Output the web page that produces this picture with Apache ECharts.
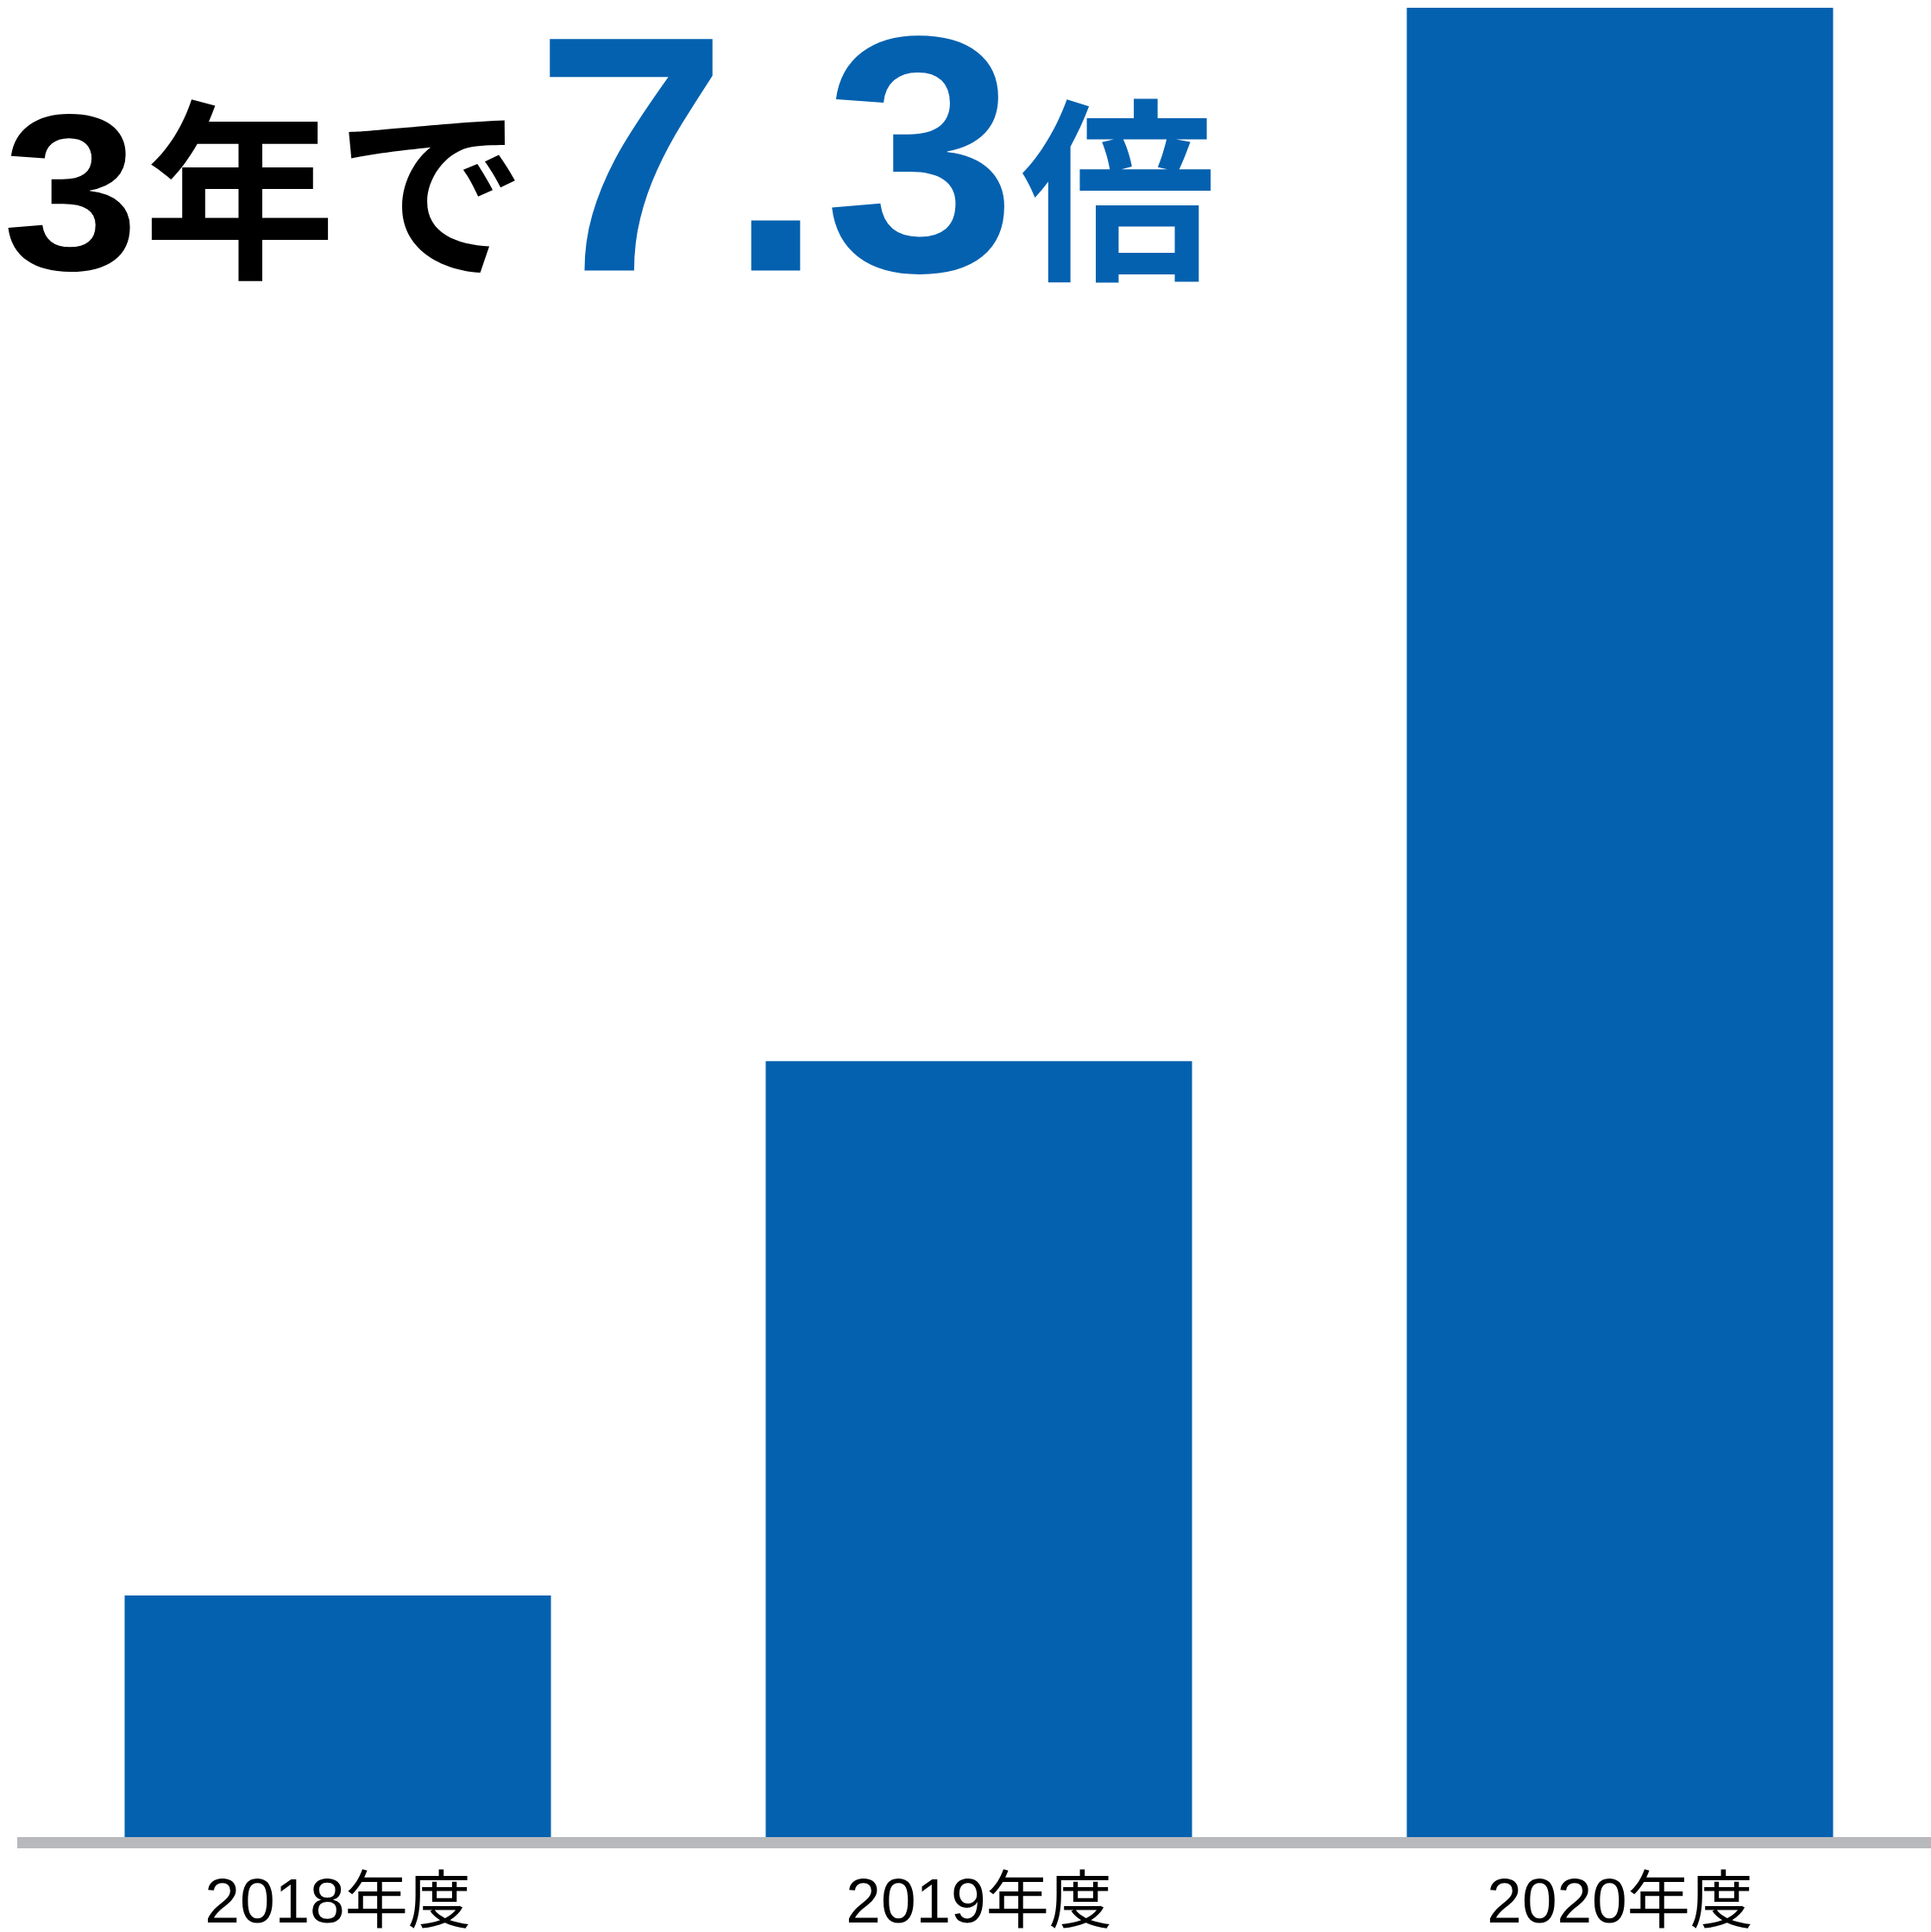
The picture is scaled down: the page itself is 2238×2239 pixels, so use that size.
<!DOCTYPE html>
<html><head><meta charset="utf-8">
<script src="https://cdn.jsdelivr.net/npm/echarts@6/dist/echarts.min.js"></script>
<style>html,body{margin:0;padding:0;background:#fff}#c{width:2238px;height:2239px}</style>
</head><body><div id="c"></div>
<script>
const categories = ['2018年度', '2019年度', '2020年度'];
const values = [1.0, 3.16, 7.42];
const titleLead = '3';
const titleMid = '年で';
const titleNum = '7.3';
const titleUnit = '倍';

const BLUE = '#0461AF';
const CJK = '"Noto Sans CJK JP", "Noto Sans", sans-serif';
const MIX = '"Liberation Sans", "Noto Sans CJK JP", sans-serif';
const chart = echarts.init(document.getElementById('c'), null, {renderer: 'canvas'});

function txt(text, x, y, size, color, family, sx) {
  return {
    type: 'text', x: x, y: y, scaleX: sx || 1, z: 10,
    style: {
      text: text, fill: color, fontFamily: family, fontWeight: 'bold', fontSize: size,
      align: 'left', verticalAlign: 'middle'
    }
  };
}

chart.setOption({
  animation: false,
  backgroundColor: '#ffffff',
  grid: {left: 20, width: 2229, top: 9, bottom: 103.5, containLabel: false, outerBoundsMode: 'none'},
  xAxis: {
    type: 'category', data: categories, z: 3,
    axisLine: {show: true, lineStyle: {color: '#B8B9BC', width: 13, cap: 'butt'}},
    axisTick: {show: false},
    axisLabel: {
      color: '#000', fontFamily: MIX, fontSize: 73, fontWeight: 'normal',
      margin: 72, verticalAlign: 'middle'
    }
  },
  yAxis: {type: 'value', min: 0, max: 'dataMax', show: false, splitLine: {show: false}},
  series: [{
    type: 'bar', data: values, barCategoryGap: '33.5%',
    itemStyle: {color: BLUE}
  }],
  graphic: [
    txt(titleLead, 3, 241, 258, '#000', MIX, 1.1),
    txt(titleMid, 167, 221, 222, '#000', CJK),
    txt(titleNum, 620, 206, 390, BLUE, MIX, 1.03),
    txt(titleUnit, 1183, 221, 226, BLUE, CJK)
  ]
});
</script></body></html>
